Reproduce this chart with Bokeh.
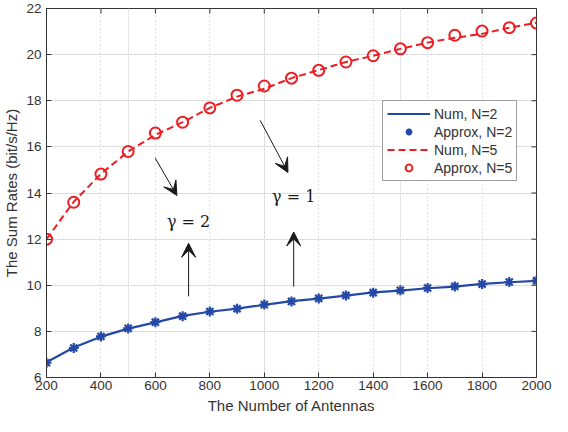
from bokeh.plotting import figure
from bokeh.models import (LinearAxis, Legend, LegendItem, Arrow, VeeHead,
                          ColumnDataSource, FixedTicker, Grid)
from bokeh.core.properties import value
from bokeh.embed import file_html
from bokeh.resources import INLINE

# ---- data ----
antennas = [200, 300, 400, 500, 600, 700, 800, 900, 1000, 1100,
            1200, 1300, 1400, 1500, 1600, 1700, 1800, 1900, 2000]
num_n2 = [6.66, 7.30, 7.77, 8.12, 8.39, 8.67, 8.85, 8.99, 9.15, 9.31,
          9.42, 9.55, 9.69, 9.77, 9.87, 9.94, 10.06, 10.13, 10.19]
approx_n2 = [6.64, 7.28, 7.78, 8.13, 8.40, 8.66, 8.86, 8.98, 9.16, 9.30,
             9.43, 9.56, 9.68, 9.78, 9.88, 9.95, 10.05, 10.14, 10.20]
num_n5 = [12.00, 13.62, 14.83, 15.80, 16.52, 17.07, 17.69, 18.18, 18.52, 18.98,
          19.33, 19.68, 19.95, 20.25, 20.52, 20.73, 20.90, 21.17, 21.38]
approx_n5 = [12.00, 13.60, 14.82, 15.80, 16.60, 17.07, 17.69, 18.24, 18.64, 18.98,
             19.32, 19.68, 19.95, 20.25, 20.52, 20.84, 21.02, 21.17, 21.37]

x_ticks = [200, 400, 600, 800, 1000, 1200, 1400, 1600, 1800, 2000]
y_ticks = [6, 8, 10, 12, 14, 16, 18, 20, 22]
x_min, x_max = 200, 2000
y_min, y_max = 6, 22

arrow_x_start = [599, 985, 722, 1108]
arrow_y_start = [15.52, 17.15, 9.52, 9.94]
arrow_x_end = [679, 1087, 722, 1108]
arrow_y_end = [13.89, 14.89, 11.82, 12.31]

gamma_x = [722, 1108]
gamma_y = [12.77, 13.84]
gamma_text = ["γ = 2", "γ = 1"]

BLUE = "#2348a8"
RED = "#ee1d23"
AXC = "#333333"
FONT = "Liberation Sans"

p = figure(width=552, height=416, x_range=(x_min, x_max), y_range=(y_min, y_max),
           output_backend="svg", toolbar_location=None,
           min_border_left=0, min_border_right=16, min_border_top=8,
           min_border_bottom=0)
p.xaxis.visible = False
p.yaxis.visible = False

def style_axis(ax):
    ax.axis_line_color = AXC
    ax.major_tick_line_color = AXC
    ax.major_tick_in = 5
    ax.major_tick_out = 0
    ax.minor_tick_line_color = None
    ax.major_label_text_font = FONT
    ax.major_label_text_font_size = "13.5px"
    ax.major_label_text_color = AXC
    ax.axis_label_text_font = FONT
    ax.axis_label_text_font_size = "15px"
    ax.axis_label_text_font_style = "normal"
    ax.axis_label_text_color = AXC

xb = LinearAxis(ticker=FixedTicker(ticks=x_ticks), axis_label="The Number of Antennas")
style_axis(xb)
xb.major_label_standoff = 3
xb.axis_label_standoff = 4
p.add_layout(xb, "below")

yl = LinearAxis(ticker=FixedTicker(ticks=y_ticks), axis_label="The Sum Rates (bit/s/Hz)")
style_axis(yl)
yl.major_label_standoff = 5
yl.axis_label_standoff = 3
p.add_layout(yl, "left")

p.add_layout(Grid(dimension=0, ticker=FixedTicker(ticks=x_ticks),
                  grid_line_color="#c8c8c8", grid_line_dash="1 3", grid_line_width=1))
p.add_layout(Grid(dimension=1, ticker=FixedTicker(ticks=y_ticks),
                  grid_line_color="#c8c8c8", grid_line_dash="1 3", grid_line_width=1))
p.outline_line_color = AXC
p.background_fill_color = "white"
p.border_fill_color = "white"

# inward ticks on the top and right edges of the box (tick length in data units)
tick_dy = (y_max - y_min) * 5 / 368
tick_dx = (x_max - x_min) * 5 / 492
p.segment(x0=x_ticks, x1=x_ticks, y0=[y_max] * len(x_ticks),
          y1=[y_max - tick_dy] * len(x_ticks), line_color=AXC, line_width=1)
p.segment(x0=[x_max] * len(y_ticks), x1=[x_max - tick_dx] * len(y_ticks),
          y0=y_ticks, y1=y_ticks, line_color=AXC, line_width=1)

r_num2 = p.line(antennas, num_n2, line_color=BLUE, line_width=2.2)
r_app2 = p.scatter(antennas, approx_n2, marker="asterisk", size=10,
                   line_color=BLUE, line_width=2.2)
r_num5 = p.line(antennas, num_n5, line_color=RED, line_width=2, line_dash="7 4")
r_app5 = p.scatter(antennas, approx_n5, marker="circle", size=11,
                   line_color=RED, fill_color=None, line_width=2)

arrows = ColumnDataSource(dict(xs=arrow_x_start, ys=arrow_y_start,
                               xe=arrow_x_end, ye=arrow_y_end))
p.add_layout(Arrow(source=arrows, x_start="xs", y_start="ys", x_end="xe", y_end="ye",
                   line_color="#1a1a1a", line_width=1,
                   end=VeeHead(size=14, fill_color="#1a1a1a", line_color="#1a1a1a",
                               line_width=1)))

p.text(x=gamma_x, y=gamma_y, text=gamma_text, text_align="center",
       text_baseline="middle", text_font=value("DejaVu Serif"),
       text_font_size="16px", text_color="#1a1a1a")

legend = Legend(items=[
    LegendItem(label="Num, N=2", renderers=[r_num2]),
    LegendItem(label="Approx, N=2", renderers=[r_app2]),
    LegendItem(label="Num, N=5", renderers=[r_num5]),
    LegendItem(label="Approx, N=5", renderers=[r_app5]),
], location=(336, 196))
legend.label_text_font = FONT
legend.label_text_font_size = "14px"
legend.label_text_color = AXC
legend.glyph_width = 43
legend.glyph_height = 17
legend.label_height = 17
legend.spacing = 1
legend.padding = 4
legend.margin = 0
legend.label_standoff = 4
legend.border_line_color = "#404040"
legend.border_line_width = 1
legend.background_fill_alpha = 1
p.add_layout(legend, "center")

open("out.html", "w").write(file_html(p, INLINE))
